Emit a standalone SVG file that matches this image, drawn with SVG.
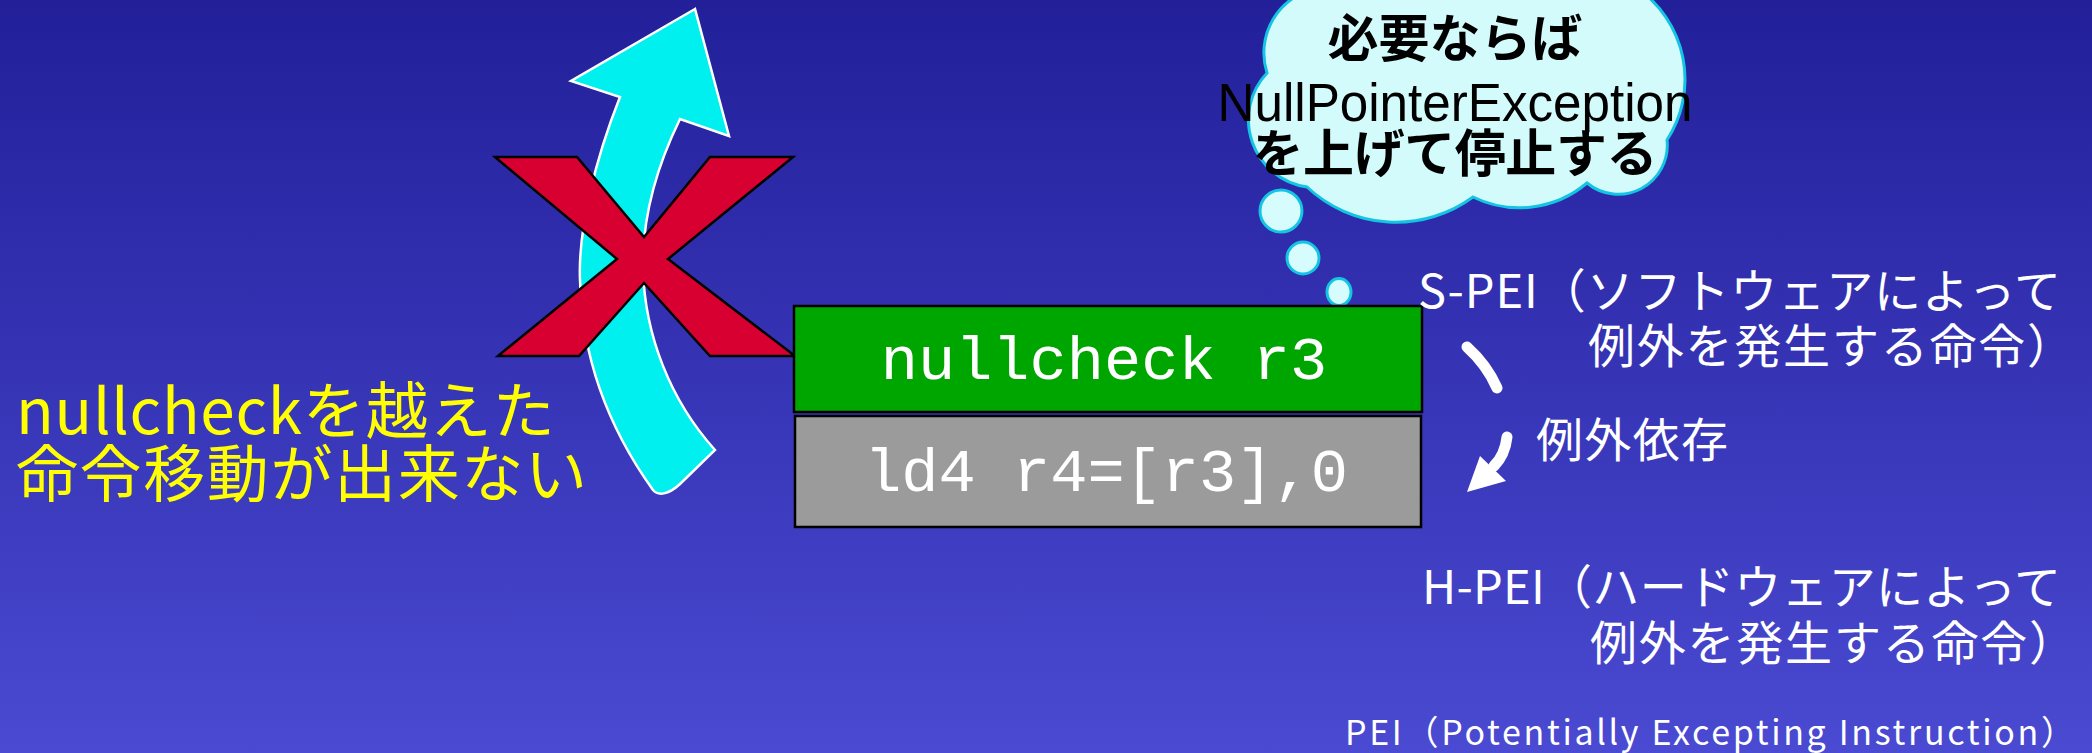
<svg xmlns="http://www.w3.org/2000/svg" width="2092" height="753" viewBox="0 0 2092 753">
  <defs>
    <linearGradient id="bg" x1="0" y1="0" x2="0" y2="1">
      <stop offset="0" stop-color="#221F99"/>
      <stop offset="1" stop-color="#4A4AD2"/>
    </linearGradient>
  </defs>
  <style>
    .jp { font-family: "Noto Sans CJK JP", "Noto Sans", sans-serif; }
    .white { fill: #FFFFFF; }
    .mono { font-family: "Liberation Mono", "DejaVu Sans Mono", monospace; font-size: 62px; fill: #FFFFFF; }
    .cloudtxt { font-family: "Noto Sans CJK JP", sans-serif; font-weight: bold; font-size: 51px; fill: #000000; }
    .bubble { fill: #D6FCFD; stroke: #14C4E4; stroke-width: 3; }
    .dep { fill: none; stroke: #FFFFFF; stroke-width: 11; stroke-linecap: round; }
  </style>

  <rect x="0" y="0" width="2092" height="753" fill="url(#bg)"/>

  <g id="move-arrow">
    <path d="M695,9 L571,81 L620,97 C595,160 578,230 580,280 C582,360 610,430 653,490 C658,496 668,495 680,484 L715,450 C670,400 645,335 643,270 C642,220 655,170 680,119 L729,136 Z" fill="#00F0F0" stroke="#FFFFFF" stroke-width="2.5" stroke-linejoin="miter"/>
  </g>

  <g id="cross">
    <path d="M495,157 L577,157 L644,237 L710,157 L793,157 L668,259 L795,356 L710,356 L644,283 L579,356 L498,356 L617,259 Z" fill="#D70030" stroke="#000000" stroke-width="2.5" stroke-linejoin="miter"/>
  </g>

  <g id="thought-cloud">
    <path d="M1318,-12 A66,66 0 0 0 1267,73 A68,68 0 0 0 1307,187 A130,130 0 0 0 1473,197 A105,105 0 0 0 1587,183 A49,49 0 0 0 1667,140 A111,111 0 0 0 1637,-12 Z" fill="#D4FBFC" stroke="#14C4E4" stroke-width="3"/>
    <circle class="bubble" cx="1281" cy="211" r="21"/>
    <circle class="bubble" cx="1303" cy="258" r="16"/>
    <ellipse class="bubble" cx="1339" cy="292" rx="12" ry="13.5"/>
    <text class="cloudtxt" x="1455" y="57" text-anchor="middle" textLength="255" lengthAdjust="spacing">必要ならば</text>
    <text x="1455" y="121" text-anchor="middle" font-family="Liberation Sans, Arial, sans-serif" font-size="53" fill="#000000" textLength="475" lengthAdjust="spacingAndGlyphs">NullPointerException</text>
    <text class="cloudtxt" x="1455" y="172" text-anchor="middle" textLength="405" lengthAdjust="spacing">を上げて停止する</text>
  </g>

  <g id="box-nullcheck">
    <rect x="794" y="306" width="628" height="106" fill="#00A600" stroke="#000000" stroke-width="2.5"/>
    <text class="mono" x="1104" y="379" text-anchor="middle">nullcheck r3</text>
  </g>

  <g id="box-ld4">
    <rect x="795" y="416" width="626" height="111" fill="#9B9B9B" stroke="#000000" stroke-width="2.5"/>
    <text class="mono" x="1106" y="491" text-anchor="middle">ld4 r4=[r3],0</text>
  </g>

  <g id="label-cannot-move">
    <text class="jp" x="16" y="434" font-size="62" fill="#FFFF00"><tspan textLength="286" lengthAdjust="spacing">nullcheck</tspan><tspan textLength="252" lengthAdjust="spacing">を越えた</tspan></text>
    <text class="jp" x="16" y="497" font-size="62" fill="#FFFF00" textLength="571" lengthAdjust="spacing">命令移動が出来ない</text>
  </g>

  <g id="label-s-pei">
    <text class="jp white" x="1418" y="308" font-size="47" textLength="643" lengthAdjust="spacing">S-PEI（ソフトウェアによって</text>
    <text class="jp white" x="1588" y="363" font-size="47" textLength="486" lengthAdjust="spacing">例外を発生する命令）</text>
  </g>

  <g id="label-dependency">
    <text class="jp white" x="1536" y="457" font-size="47" textLength="192" lengthAdjust="spacing">例外依存</text>
  </g>

  <g id="label-h-pei">
    <text class="jp white" x="1422" y="604" font-size="47" textLength="639" lengthAdjust="spacing">H-PEI（ハードウェアによって</text>
    <text class="jp white" x="1590" y="660" font-size="47" textLength="486" lengthAdjust="spacing">例外を発生する命令）</text>
  </g>

  <g id="label-pei">
    <text class="jp white" x="1345" y="745" font-size="34" textLength="730" lengthAdjust="spacing">PEI（Potentially Excepting Instruction）</text>
  </g>

  <g id="connectors">
    <path class="dep" d="M1467,347 Q1487,365 1497,388"/>
    <path class="dep" d="M1507,437 Q1505,455 1494,466"/>
    <polygon points="1480,456 1506,481 1467,492" fill="#FFFFFF"/>
  </g>
</svg>
